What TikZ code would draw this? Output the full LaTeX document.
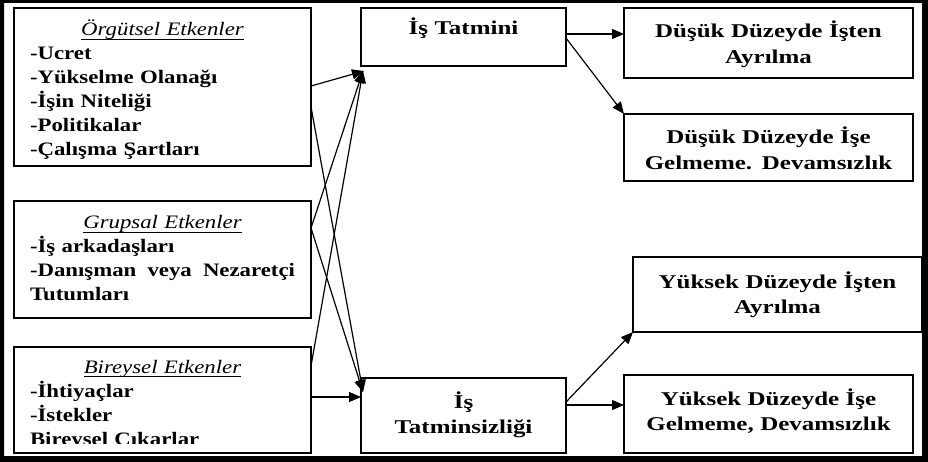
\documentclass[tikz,border=0pt]{standalone}
\usepackage{fontspec}
\setmainfont{Liberation Serif}[FakeStretch=1.2]
\newfontfamily\sonucfont{Liberation Serif}[FakeStretch=1.28]
\usetikzlibrary{arrows.meta}
\tikzset{
  kutu/.style = {draw, line width=1.2pt, inner ysep=0pt, outer sep=0pt, anchor=base west},
  etken_n/.style = {kutu, text width=265pt, inner xsep=16pt, align=left, font=\fontsize{19}{24}\selectfont\bfseries},
  tatmin_n/.style = {kutu, text width=189pt, inner xsep=8pt, align=center, font=\sonucfont\fontsize{19.5}{25.5}\selectfont\bfseries},
  sonuc_n/.style = {kutu, text width=273pt, inner xsep=8pt, align=center, font=\sonucfont\fontsize{19.5}{25.5}\selectfont\bfseries},
  ok/.style = {-{Triangle[length=12pt,width=10pt]}, line width=1.2pt}
}
\newsavebox\baslikbox
\newcommand{\baslik}[1]{{\centering\mdseries\itshape\sbox\baslikbox{#1}\rlap{\rule[-4pt]{\wd\baslikbox}{1.1pt}}\usebox\baslikbox\par}}

\begin{document}
\begin{tikzpicture}[x=1pt,y=-1pt]
\useasboundingbox (0,0) rectangle (928,462);
\fill[even odd rule] (0,0) rectangle (928,462) (4,3) rectangle (922,456);

\node [etken_n, text height=28pt, text depth=130pt] (orgutsel) at (14,36)
	{\baslik{Örgütsel Etkenler}-Ucret\\-Yükselme Olanağı\\-İşin Niteliği\\-Politikalar\\-Çalışma Şartları};
\node [etken_n, text height=28pt, text depth=89pt] (grupsal) at (14,229)
	{\baslik{Grupsal Etkenler}-İş arkadaşları\\-Danışman\hfill veya\hfill Nezaretçi\\Tutumları};
\begin{scope}
	\clip (14,347) rectangle (311,443);
	\node [etken_n, draw=none, text height=26pt, text depth=80pt] (bireysel) at (14,373)
		{\baslik{Bireysel Etkenler}-İhtiyaçlar\\-İstekler\\Bireysel Cıkarlar};
\end{scope}
\draw [line width=1.2pt] (bireysel.north west) rectangle (bireysel.south east);

\node [tatmin_n, text height=27pt, text depth=31pt] (tatmini) at (361,35) {İş Tatmini};
\node [tatmin_n, text height=30pt, text depth=45pt] (tatminsiz) at (361,408) {İş\\Tatminsizliği};

\node [sonuc_n, text height=30pt, text depth=40pt] (dusukAyr) at (624,38) {Düşük Düzeyde İşten\\Ayrılma};
\node [sonuc_n, text height=30pt, text depth=37pt] (dusukDev) at (624,144) {Düşük Düzeyde İşe\\Gelmeme. Devamsızlık};
\node [sonuc_n, text height=31pt, text depth=44pt] (yuksekAyr) at (633,288) {Yüksek Düzeyde İşten\\Ayrılma};
\node [sonuc_n, text height=30pt, text depth=48pt] (yuksekDev) at (624,405) {Yüksek Düzeyde İşe\\Gelmeme, Devamsızlık};

\draw [ok] ([yshift=-78pt]orgutsel.north east) -- ([shift={(3pt,-5pt)}]tatmini.south west);
\draw [ok] ([yshift=-99pt]orgutsel.north east) -- ([shift={(2pt,-14pt)}]tatminsiz.north west);
\draw [ok] ([yshift=-27pt]grupsal.north east) -- ([shift={(2pt,-5pt)}]tatmini.south west);
\draw [ok] ([yshift=-27pt]grupsal.north east) -- ([shift={(2pt,-14pt)}]tatminsiz.north west);
\draw [ok] ([yshift=-19pt]bireysel.north east) -- ([shift={(2pt,-5pt)}]tatmini.south west);
\draw [ok] ([yshift=-50pt]bireysel.north east) -- ([yshift=-19pt]tatminsiz.north west);

\draw [ok] ([yshift=-26pt]tatmini.north east) -- ([yshift=-26pt]dusukAyr.north west);
\draw [ok] ([yshift=-30pt]tatmini.north east) -- (dusukDev.north west);
\draw [ok] ([yshift=-24pt]tatminsiz.north east) -- (yuksekAyr.south west);
\draw [ok] ([yshift=-27pt]tatminsiz.north east) -- ([yshift=-30pt]yuksekDev.north west);
\end{tikzpicture}
\end{document}
